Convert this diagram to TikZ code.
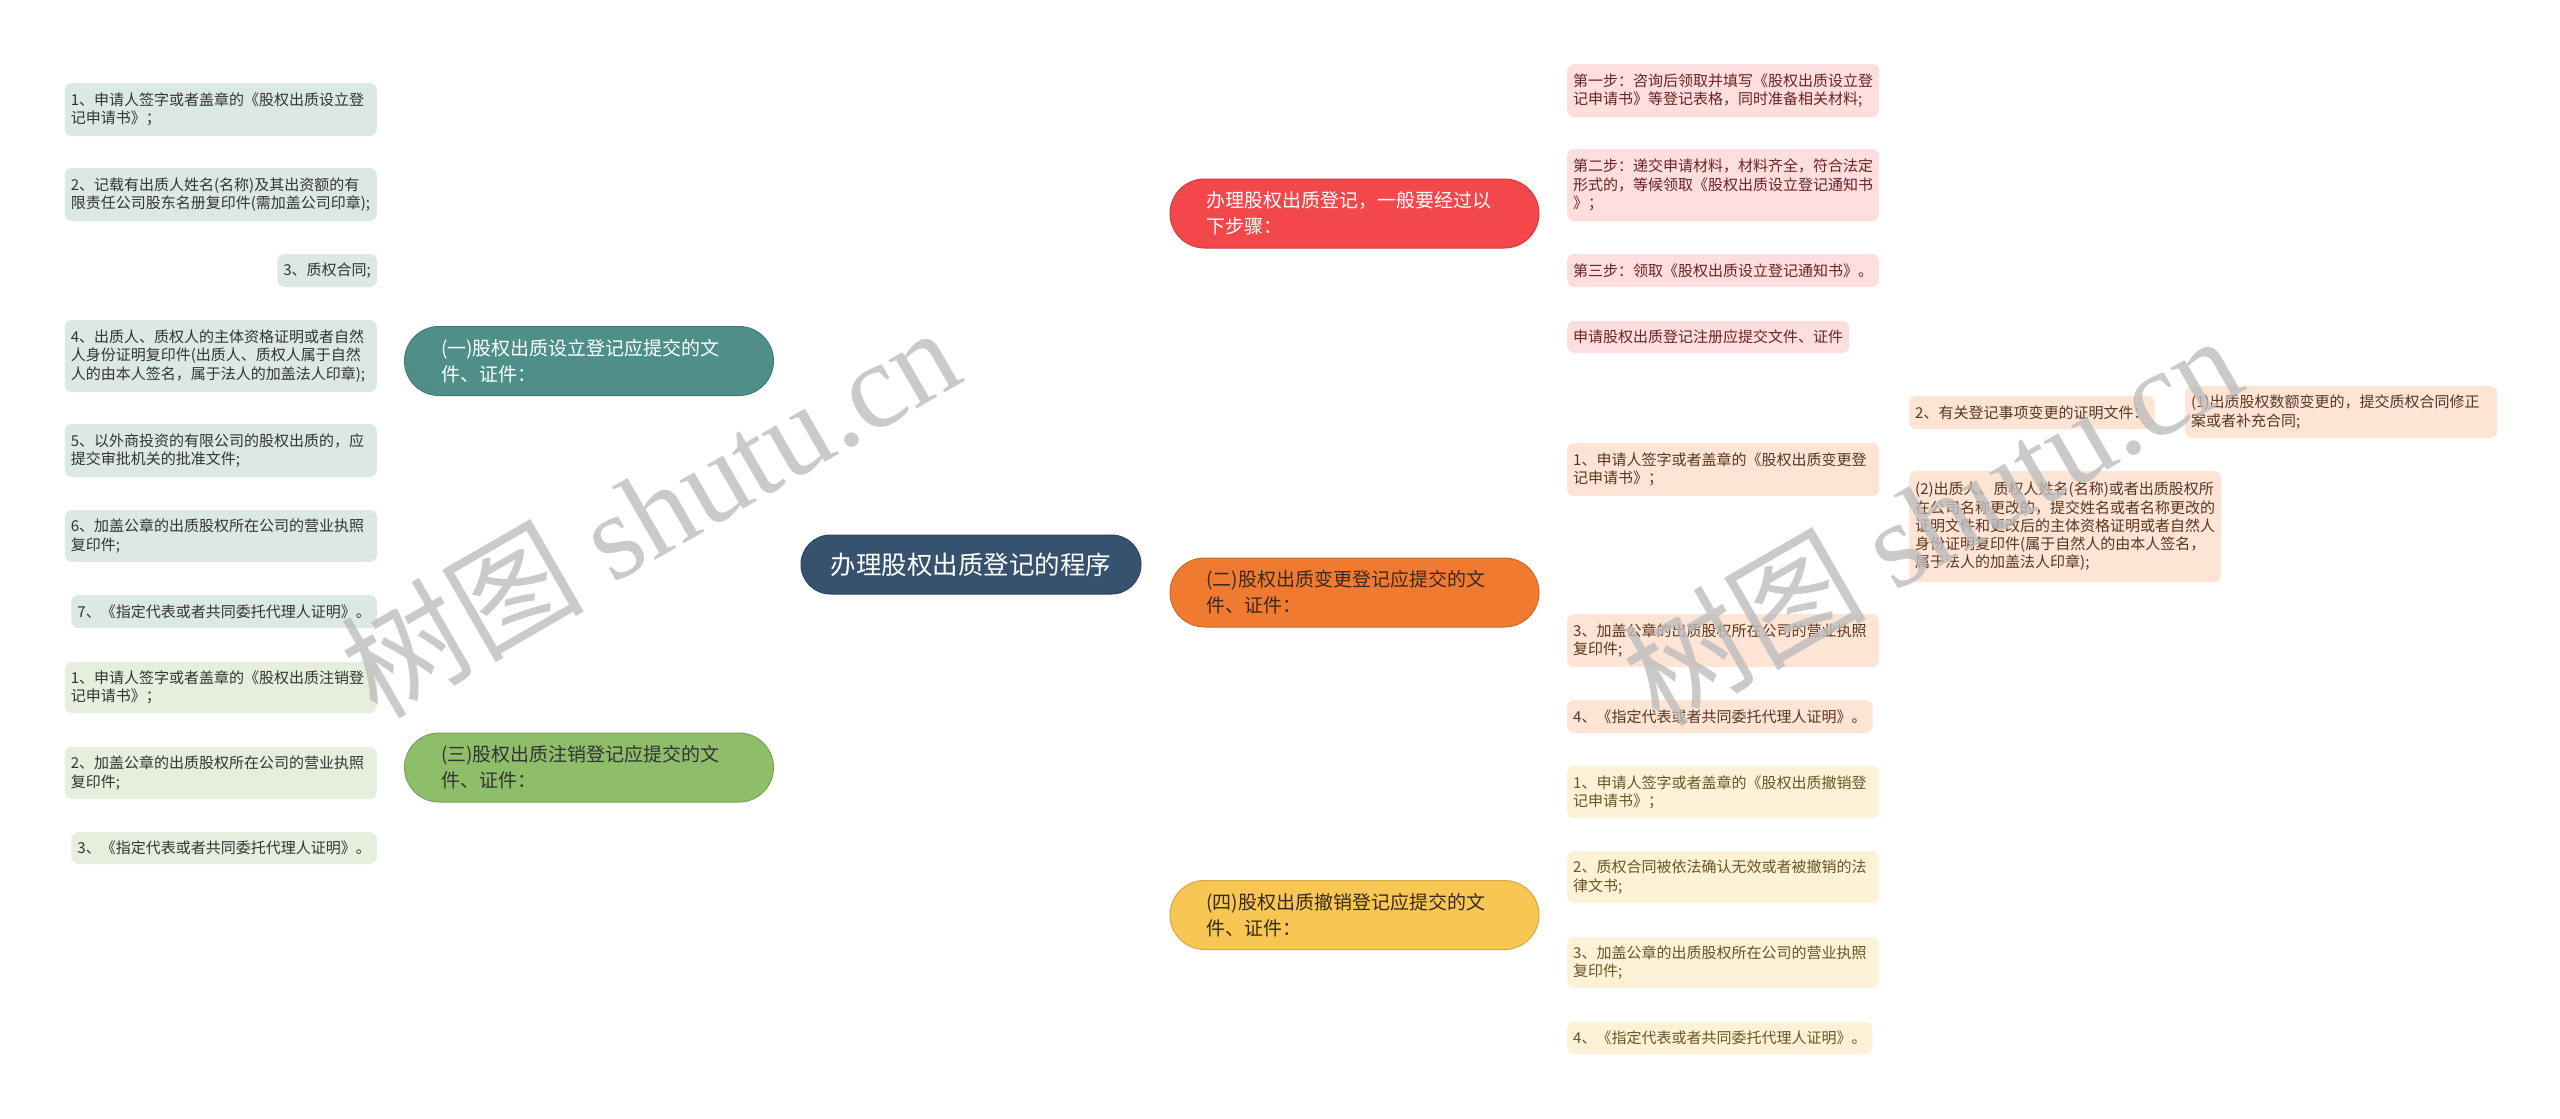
\documentclass[tikz,border=0pt]{standalone}
\usepackage{fontspec}
\setmainfont{Noto Sans CJK SC}
\newfontfamily\wmlat{Liberation Serif}
\newfontfamily\wmcjk{Noto Sans CJK SC}
\usetikzlibrary{calc}
\pgfdeclarelayer{bg}
\pgfsetlayers{bg,main}

\definecolor{rootc}{HTML}{37526E}
\definecolor{rootd}{HTML}{2C4560}
\definecolor{tealc}{HTML}{4F8F8A}
\definecolor{teall}{HTML}{DCE8E6}
\definecolor{teallin}{HTML}{4A8782}
\definecolor{greenc}{HTML}{8FBE6B}
\definecolor{greenl}{HTML}{E6EFDD}
\definecolor{greenlin}{HTML}{8CB868}
\definecolor{redc}{HTML}{F2474B}
\definecolor{redl}{HTML}{FCDEDE}
\definecolor{redlin}{HTML}{C8373B}
\definecolor{redt}{HTML}{6E2323}
\definecolor{orc}{HTML}{F07A2F}
\definecolor{orl}{HTML}{FDE4D4}
\definecolor{orlin}{HTML}{E07129}
\definecolor{ort}{HTML}{5C3620}
\definecolor{yec}{HTML}{F7C653}
\definecolor{yel}{HTML}{FDF2D8}
\definecolor{yelin}{HTML}{EDC24F}
\definecolor{yet}{HTML}{6B5526}
\definecolor{darkt}{HTML}{333333}
\definecolor{brdark}{HTML}{3A2A1E}
\definecolor{wmgray}{HTML}{BDBDBD}

\tikzset{
  x=1pt, y=-1pt,
  rootbox/.style={fill=rootc, draw=rootd, line width=1pt, rounded corners=29.5pt,
    minimum width=340pt, minimum height=59pt, text=white, inner sep=0pt,
    font=\fontsize{25.5}{30}\selectfont},
  branchbox/.style={rounded corners=34.5pt, minimum width=369pt, minimum height=69pt,
    text width=296pt, align=left, inner sep=0pt, line width=1pt,
    font=\fontsize{19}{26}\selectfont},
  leafbox/.style={rounded corners=7pt, inner xsep=6pt, inner ysep=0pt, align=left,
    font=\fontsize{15}{18.3}\selectfont},
  wleaf/.style={leafbox, text width=300pt},
  tleaf/.style={fill=teall, text=darkt, anchor=east},
  gleaf/.style={fill=greenl, text=darkt, anchor=east},
  rleaf/.style={fill=redl, text=redt, anchor=west},
  oleaf/.style={fill=orl, text=ort, anchor=west},
  yleaf/.style={fill=yel, text=yet, anchor=west},
  conn/.style={line width=2pt},
  mainconn/.style={line width=2.2pt},
  wmark/.style={text=wmgray, opacity=0.8, inner sep=0pt, rotate=30,
    font=\fontsize{122}{122}\selectfont},
}

\begin{document}
\begin{tikzpicture}
\useasboundingbox (0,0) rectangle (2560,1119);
\fill[white] (0,0) rectangle (2560,1119);

% root
\node[rootbox] (root) at (971,564.5) {办理股权出质登记的程序};

% branches
\node[branchbox, fill=tealc, draw=tealc!85!black, text=white] (b1) at (589,361)
  {(一)股权出质设立登记应提交的文\\件、证件：};
\node[branchbox, fill=greenc, draw=greenc!85!black, text=darkt] (b3) at (589,767.5)
  {(三)股权出质注销登记应提交的文\\件、证件：};
\node[branchbox, fill=redc, draw=redc!85!black, text=white] (br) at (1354.5,213.5)
  {办理股权出质登记，一般要经过以\\下步骤：};
\node[branchbox, fill=orc, draw=orc!85!black, text=brdark] (bo) at (1354.5,592.5)
  {(二)股权出质变更登记应提交的文\\件、证件：};
\node[branchbox, fill=yec, draw=yec!85!black, text=brdark] (by) at (1354.5,915)
  {(四)股权出质撤销登记应提交的文\\件、证件：};

% teal leaves
\node[wleaf, tleaf, minimum height=53pt] (t1) at (377,109.5)
  {1、申请人签字或者盖章的《股权出质设立登\\记申请书》；};
\node[wleaf, tleaf, minimum height=53pt] (t2) at (377,194.5)
  {2、记载有出质人姓名(名称)及其出资额的有\\限责任公司股东名册复印件(需加盖公司印章);};
\node[leafbox, tleaf, minimum height=33pt] (t3) at (377,270.5) {3、质权合同;};
\node[wleaf, tleaf, minimum height=72pt] (t4) at (377,356)
  {4、出质人、质权人的主体资格证明或者自然\\人身份证明复印件(出质人、质权人属于自然\\人的由本人签名，属于法人的加盖法人印章);};
\node[wleaf, tleaf, minimum height=53pt] (t5) at (377,450.5)
  {5、以外商投资的有限公司的股权出质的，应\\提交审批机关的批准文件;};
\node[wleaf, tleaf, minimum height=52pt] (t6) at (377,536)
  {6、加盖公章的出质股权所在公司的营业执照\\复印件;};
\node[leafbox, tleaf, minimum height=33pt] (t7) at (377,611.5)
  {7、《指定代表或者共同委托代理人证明》。};

% green leaves
\node[wleaf, gleaf, minimum height=51pt] (g1) at (377,687.5)
  {1、申请人签字或者盖章的《股权出质注销登\\记申请书》；};
\node[wleaf, gleaf, minimum height=52pt] (g2) at (377,773)
  {2、加盖公章的出质股权所在公司的营业执照\\复印件;};
\node[leafbox, gleaf, minimum height=32pt] (g3) at (377,848)
  {3、《指定代表或者共同委托代理人证明》。};

% red leaves
\node[wleaf, rleaf, minimum height=53pt] (r1) at (1567,90.5)
  {第一步：咨询后领取并填写《股权出质设立登\\记申请书》等登记表格，同时准备相关材料;};
\node[wleaf, rleaf, minimum height=72pt] (r2) at (1567,185)
  {第二步：递交申请材料，材料齐全，符合法定\\形式的，等候领取《股权出质设立登记通知书\\》；};
\node[leafbox, rleaf, minimum height=33pt] (r3) at (1567,270.5)
  {第三步：领取《股权出质设立登记通知书》。};
\node[leafbox, rleaf, minimum height=32pt] (r4) at (1567,337)
  {申请股权出质登记注册应提交文件、证件};

% orange leaves
\node[wleaf, oleaf, minimum height=53pt] (o1) at (1567,469.5)
  {1、申请人签字或者盖章的《股权出质变更登\\记申请书》；};
\node[wleaf, oleaf, minimum height=53pt] (o3) at (1567,640.5)
  {3、加盖公章的出质股权所在公司的营业执照\\复印件;};
\node[leafbox, oleaf, minimum height=33pt] (o4) at (1567,716.5)
  {4、《指定代表或者共同委托代理人证明》。};
\node[leafbox, oleaf, minimum height=33pt] (o2a) at (1909,412.5)
  {2、有关登记事项变更的证明文件：};
\node[wleaf, oleaf, minimum height=111pt] (o2b) at (1909,526.5)
  {(2)出质人、质权人姓名(名称)或者出质股权所\\在公司名称更改的，提交姓名或者名称更改的\\证明文件和更改后的主体资格证明或者自然人\\身份证明复印件(属于自然人的由本人签名，\\属于法人的加盖法人印章);};
\node[wleaf, oleaf, minimum height=52pt] (o2c) at (2185,412)
  {(1)出质股权数额变更的，提交质权合同修正\\案或者补充合同;};

% yellow leaves
\node[wleaf, yleaf, minimum height=52pt] (y1) at (1567,792)
  {1、申请人签字或者盖章的《股权出质撤销登\\记申请书》；};
\node[wleaf, yleaf, minimum height=52pt] (y2) at (1567,877)
  {2、质权合同被依法确认无效或者被撤销的法\\律文书;};
\node[wleaf, yleaf, minimum height=51pt] (y3) at (1567,962.5)
  {3、加盖公章的出质股权所在公司的营业执照\\复印件;};
\node[leafbox, yleaf, minimum height=32pt] (y4) at (1567,1038)
  {4、《指定代表或者共同委托代理人证明》。};

% connectors
\begin{pgfonlayer}{bg}
  \draw[mainconn, teallin] (root.center) .. controls (root.center |- b1.east) .. (b1.east);
  \draw[mainconn, greenlin] (root.center) .. controls (root.center |- b3.east) .. (b3.east);
  \draw[mainconn, redlin] (root.center) .. controls (root.center |- br.west) .. (br.west);
  \draw[mainconn, orlin] (root.center) .. controls (root.center |- bo.west) .. (bo.west);
  \draw[mainconn, yelin] (root.center) .. controls (root.center |- by.west) .. (by.west);

  \draw[conn, teallin] (b1.west) -- ++(-15,0) coordinate (s1);
  \foreach \c in {t1,t2,t3,t4,t5,t6,t7}
    \draw[conn, teallin] (s1) .. controls (s1 |- \c.east) .. (\c.east);

  \draw[conn, greenlin] (b3.west) -- ++(-15,0) coordinate (s3);
  \foreach \c in {g1,g2,g3}
    \draw[conn, greenlin] (s3) .. controls (s3 |- \c.east) .. (\c.east);

  \draw[conn, redlin] (br.east) -- ++(14,0) coordinate (sr);
  \foreach \c in {r1,r2,r3,r4}
    \draw[conn, redlin] (sr) .. controls (sr |- \c.west) .. (\c.west);

  \draw[conn, orlin] (bo.east) -- ++(14,0) coordinate (so);
  \foreach \c in {o1,o3,o4}
    \draw[conn, orlin] (so) .. controls (so |- \c.west) .. (\c.west);

  \draw[conn, orlin] (o1.east) -- ++(15,0) coordinate (so1);
  \foreach \c in {o2a,o2b}
    \draw[conn, orlin] (so1) .. controls (so1 |- \c.west) .. (\c.west);
  \draw[conn, orlin] (o2a.east) -- (o2c.west);

  \draw[conn, yelin] (by.east) -- ++(14,0) coordinate (sy);
  \foreach \c in {y1,y2,y3,y4}
    \draw[conn, yelin] (sy) .. controls (sy |- \c.west) .. (\c.west);
\end{pgfonlayer}

% watermarks
\node[wmark] (wm1) at (649,510) {{\wmcjk 树图} {\wmlat shutu.cn}};
\node[wmark] (wm2) at (1931,518) {{\wmcjk 树图} {\wmlat shutu.cn}};
\end{tikzpicture}
\end{document}
